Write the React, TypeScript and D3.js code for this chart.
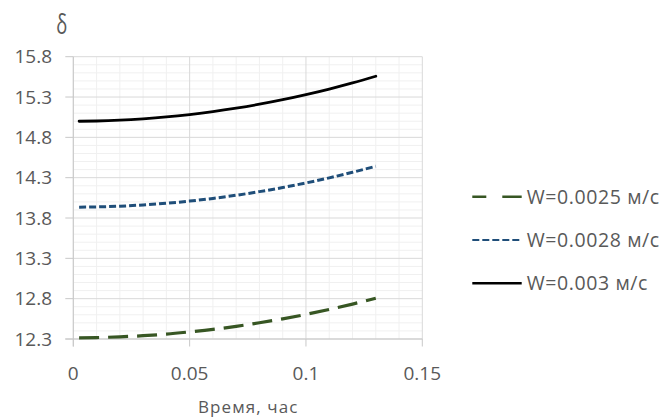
import React from "react";
import * as d3 from "d3";

const times = [0.0025, 0.01, 0.02, 0.03, 0.04, 0.05, 0.06, 0.07, 0.08, 0.09, 0.1, 0.11, 0.12, 0.13];
const w0025 = [12.315, 12.318, 12.327, 12.341, 12.361, 12.388, 12.419, 12.457, 12.501, 12.55, 12.605, 12.666, 12.733, 12.805];
const w0028 = [13.935, 13.938, 13.947, 13.962, 13.983, 14.01, 14.043, 14.082, 14.127, 14.178, 14.235, 14.298, 14.367, 14.442];
const w003 = [15.0, 15.003, 15.013, 15.03, 15.053, 15.083, 15.119, 15.162, 15.211, 15.267, 15.33, 15.399, 15.475, 15.558];

const seriesNames = ["W=0.0025 м/с", "W=0.0028 м/с", "W=0.003 м/с"];
const xTicks = [0, 0.05, 0.1, 0.15];
const yTicks = [12.3, 12.8, 13.3, 13.8, 14.3, 14.8, 15.3, 15.8];
const xTitle = "Время, час";
const yTitle = "δ";

const W = 660;
const H = 419;
const left = 73.3;
const right = 422.3;
const top = 56.7;
const bottom = 339;
const FONT = "'Open Sans', sans-serif";
const TXT = "#595959";

export default function App() {
  const x = d3.scaleLinear().domain([0, 0.15]).range([left, right]);
  const y = d3.scaleLinear().domain([12.3, 15.8]).range([bottom, top]);

  const minorX = d3.range(0, 16).map((i) => i * 0.01).filter((v) => Math.round(v * 100) % 5 !== 0);
  const minorY = d3.range(0, 36).map((i) => 12.3 + i * 0.1).filter((_, i) => i % 5 !== 0);

  const line = d3
    .line<number>()
    .x((_, i) => x(times[i]))
    .y((d) => y(d))
    .curve(d3.curveMonotoneX);

  const series = [
    { name: seriesNames[0], data: w0025, color: "#375623", dash: "20 9", width: 3.2, lw: 2.4 },
    { name: seriesNames[1], data: w0028, color: "#1f4e79", dash: "7 3", width: 3, lw: 2.2 },
    { name: seriesNames[2], data: w003, color: "#000000", dash: null, width: 2.8, lw: 2.6 },
  ];

  const legendY = [196.7, 240, 283.3];

  return (
    <svg width={W} height={H} style={{ position: "absolute", left: 0, top: 0, background: "#fff" }} fontFamily={FONT}>
      <rect x={0} y={0} width={W} height={H} fill="#fff" />
      {minorX.map((v, i) => (
        <line key={"mx" + i} x1={x(v)} x2={x(v)} y1={top} y2={bottom} stroke="#f0f0f0" strokeWidth={1} />
      ))}
      {minorY.map((v, i) => (
        <line key={"my" + i} x1={left} x2={right} y1={y(v)} y2={y(v)} stroke="#f0f0f0" strokeWidth={1} />
      ))}
      {xTicks.map((v, i) => (
        <line key={"gx" + i} x1={x(v)} x2={x(v)} y1={top} y2={bottom} stroke="#d9d9d9" strokeWidth={1} />
      ))}
      {yTicks.map((v, i) => (
        <line key={"gy" + i} x1={left} x2={right} y1={y(v)} y2={y(v)} stroke="#d9d9d9" strokeWidth={1} />
      ))}
      <line x1={left} x2={left} y1={top} y2={bottom + 7.5} stroke="#c8c8c8" strokeWidth={1} />
      <line x1={left - 8} x2={right} y1={bottom} y2={bottom} stroke="#c8c8c8" strokeWidth={1} />
      {xTicks.map((v, i) => (
        <line key={"tx" + i} x1={x(v)} x2={x(v)} y1={bottom} y2={bottom + 7.5} stroke="#c8c8c8" strokeWidth={1} />
      ))}
      {yTicks.map((v, i) => (
        <line key={"ty" + i} x1={left - 8} x2={left} y1={y(v)} y2={y(v)} stroke="#c8c8c8" strokeWidth={1} />
      ))}
      {yTicks.map((v, i) => (
        <text key={"ly" + i} x={52} y={y(v) + 6.7} textAnchor="end" fontSize={19} fill={TXT}>
          {v.toFixed(1)}
        </text>
      ))}
      {xTicks.map((v, i) => (
        <text key={"lx" + i} x={x(v)} y={380} textAnchor="middle" fontSize={19} fill={TXT}>
          {v === 0 ? "0" : String(v)}
        </text>
      ))}
      <text x={248.3} y={413} textAnchor="middle" fontSize={17} letterSpacing={1.1} fill={TXT}>
        {xTitle}
      </text>
      <text transform="translate(61.7,34) scale(0.68,1)" textAnchor="middle" fontSize={27} fill={TXT}>
        {yTitle}
      </text>
      {series.map((s, i) => (
        <path
          key={"s" + i}
          d={line(s.data) || ""}
          fill="none"
          stroke={s.color}
          strokeWidth={s.width}
          strokeDasharray={s.dash || undefined}
          strokeLinecap={s.dash ? "butt" : "round"}
        />
      ))}
      {series.map((s, i) => (
        <g key={"lg" + i}>
          <line
            x1={472.3}
            x2={521.7}
            y1={legendY[i]}
            y2={legendY[i]}
            stroke={s.color}
            strokeWidth={s.lw}
            strokeDasharray={i === 0 ? "14 16 20" : s.dash || undefined}
          />
          <text x={526.7} y={legendY[i] + 7} fontSize={19.5} letterSpacing={0.6} fill={TXT}>
            {s.name}
          </text>
        </g>
      ))}
    </svg>
  );
}
